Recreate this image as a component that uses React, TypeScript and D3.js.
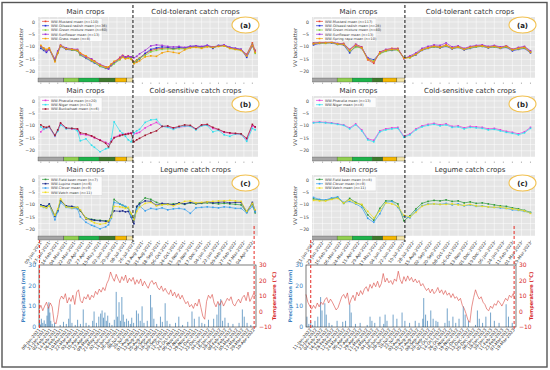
import React, { useEffect, useRef } from "react";
import * as d3 from "d3";

// Sentinel-1 acquisition dates
const leftDates = [
  "2021-01-09", "2021-01-15", "2021-01-21", "2021-01-27", "2021-02-08", "2021-02-14", "2021-02-20", "2021-03-04",
  "2021-03-16", "2021-03-28", "2021-04-03", "2021-04-15", "2021-04-27", "2021-05-03", "2021-05-15", "2021-05-27",
  "2021-06-02", "2021-06-08", "2021-06-14", "2021-06-26", "2021-07-02", "2021-07-08", "2021-07-14", "2021-07-20",
  "2021-07-26", "2021-08-01", "2021-08-07", "2021-08-19", "2021-08-31", "2021-09-12", "2021-09-24", "2021-10-06",
  "2021-10-18", "2021-10-30", "2021-11-11", "2021-11-23", "2021-12-05", "2021-12-17", "2021-12-29", "2022-01-10",
  "2022-01-22", "2022-02-03", "2022-02-15", "2022-02-27", "2022-03-11", "2022-03-23", "2022-04-04", "2022-04-10",
];
const rightDates = [
  "2022-01-11", "2022-01-23", "2022-02-04", "2022-02-16", "2022-02-28", "2022-03-12", "2022-03-24", "2022-04-05",
  "2022-04-17", "2022-04-29", "2022-05-11", "2022-05-23", "2022-06-04", "2022-06-16", "2022-06-28", "2022-07-10",
  "2022-07-22", "2022-08-03", "2022-08-15", "2022-08-27", "2022-09-08", "2022-09-20", "2022-10-02", "2022-10-14",
  "2022-10-26", "2022-11-07", "2022-11-19", "2022-12-01", "2022-12-13", "2022-12-25", "2023-01-06", "2023-01-18",
  "2023-01-30", "2023-02-11", "2023-02-23", "2023-03-07", "2023-03-19",
];

// tick labels
const leftTicks = [
  "2021-01-09", "2021-01-27", "2021-02-14", "2021-03-04", "2021-03-22", "2021-04-09", "2021-04-27", "2021-05-15",
  "2021-06-02", "2021-06-20", "2021-07-08", "2021-07-26", "2021-08-13", "2021-08-31", "2021-09-18", "2021-10-06",
  "2021-10-24", "2021-11-11", "2021-11-29", "2021-12-17", "2022-01-04", "2022-01-22", "2022-02-09", "2022-02-27",
  "2022-03-17", "2022-04-04",
];
const rightTicks = [
  "2022-01-11", "2022-01-29", "2022-02-16", "2022-03-06", "2022-03-24", "2022-04-11", "2022-04-29", "2022-05-17",
  "2022-06-04", "2022-06-22", "2022-07-10", "2022-07-28", "2022-08-15", "2022-09-02", "2022-09-20", "2022-10-08",
  "2022-10-26", "2022-11-13", "2022-12-01", "2022-12-19", "2023-01-06", "2023-01-24", "2023-02-11", "2023-03-01",
  "2023-03-19",
];
const leftWeatherTicks = [
  "2021-01-09", "2021-01-21", "2021-02-02", "2021-02-14", "2021-02-26", "2021-03-10", "2021-03-22", "2021-04-03",
  "2021-04-15", "2021-04-27", "2021-05-09", "2021-05-21", "2021-06-02", "2021-06-14", "2021-06-26", "2021-07-08",
  "2021-07-20", "2021-08-01", "2021-08-13", "2021-08-25", "2021-09-06", "2021-09-18", "2021-09-30", "2021-10-12",
  "2021-10-24", "2021-11-05", "2021-11-17", "2021-11-29", "2021-12-11", "2021-12-23", "2022-01-04", "2022-01-16",
  "2022-01-28", "2022-02-09", "2022-02-21", "2022-03-05", "2022-03-17", "2022-03-29", "2022-04-10",
];
const rightWeatherTicks = rightDates;

// VV backscatter means (dB), left column 2021/22
const lMustard = [
  -9.8, -10.8, -11.5, -10.6, -15.2, -12.0, -9.3, -10.8, -11.0, -11.2, -12.5, -13.8, -15.0, -15.6, -17.2, -18.0,
  -18.3, -17.0, -16.2, -14.2, -13.4, -14.0, -13.6, -14.2, -16.0, -15.2, -14.4, -12.8, -11.5, -10.8, -10.6, -10.4,
  -10.8, -10.5, -10.6, -10.0, -9.8, -10.2, -9.6, -10.0, -9.6, -9.4, -10.4, -10.8, -11.2, -13.0, -8.4, -11.4,
];
const lRadish = [
  -10.6, -11.4, -12.2, -11.0, -15.6, -12.4, -9.8, -11.0, -11.3, -11.6, -13.2, -14.6, -15.8, -16.4, -17.8, -18.6,
  -18.8, -17.4, -16.6, -14.8, -13.8, -14.4, -14.0, -14.6, -16.6, -15.8, -14.8, -12.6, -11.0, -10.4, -10.0, -10.2,
  -10.6, -10.2, -10.4, -9.8, -9.6, -10.0, -9.4, -10.6, -9.4, -9.4, -10.2, -10.6, -11.0, -14.2, -9.6, -12.0,
];
const lGreenMix = [
  -10.0, -11.0, -11.6, -10.8, -15.0, -12.2, -9.6, -10.6, -11.2, -11.6, -13.4, -14.4, -15.6, -16.2, -17.8, -18.4,
  -18.6, -17.6, -16.8, -15.2, -14.0, -14.6, -14.2, -14.6, -16.4, -15.4, -14.6, -13.4, -12.0, -11.4, -11.0, -10.8,
  -11.0, -10.8, -10.8, -10.2, -10.0, -10.4, -9.8, -10.2, -9.8, -9.6, -10.6, -11.0, -11.4, -13.4, -9.0, -12.6,
];
const lSunflower = [
  -9.8, -10.6, -11.8, -11.0, -14.8, -11.6, -9.4, -10.4, -10.8, -11.0, -12.8, -14.2, -14.8, -15.8, -17.0, -18.0,
  -18.8, -17.2, -16.0, -14.6, -13.6, -14.2, -13.8, -14.0, -14.4, -13.8, -12.8, -11.4, -9.6, -9.2, -9.4, -9.8,
  -10.0, -9.8, -10.2, -9.8, -9.6, -9.8, -9.4, -10.0, -9.6, -9.2, -10.2, -10.6, -11.0, -13.2, -9.2, -11.8,
];
const lGrass = [
  -9.4, -10.4, -11.0, -10.4, -16.0, -12.6, -9.6, -10.8, -11.0, -11.4, -12.6, -13.6, -15.4, -15.8, -17.4, -18.2,
  -18.0, -16.8, -15.8, -15.0, -14.2, -14.8, -14.6, -15.0, -16.8, -16.2, -15.6, -14.0, -13.6, -13.8, -12.4, -11.8,
  -12.2, -12.6, -11.2, -10.4, -10.2, -10.6, -10.0, -10.2, -9.8, -9.6, -10.6, -11.0, -11.4, -13.6, -9.4, -12.2,
];
const lPhacelia = [
  -12.4, -11.2, -10.8, -10.6, -14.2, -11.8, -9.2, -11.0, -11.2, -11.4, -13.4, -13.6, -14.2, -14.8, -15.6, -16.6,
  -17.2, -16.0, -14.6, -13.6, -13.2, -13.4, -13.0, -12.8, -13.2, -13.0, -12.6, -10.8, -9.6, -8.6, -10.2, -10.4,
  -11.0, -10.6, -10.2, -10.0, -11.4, -9.8, -9.6, -11.0, -11.6, -12.6, -13.0, -13.2, -13.4, -15.6, -10.0, -10.6,
];
const lNiger = [
  -10.4, -11.4, -10.8, -10.4, -14.0, -12.2, -9.6, -11.2, -11.0, -12.0, -16.0, -15.2, -17.8, -18.6, -20.4, -19.2,
  -18.8, -15.2, -8.4, -12.0, -13.0, -14.2, -15.6, -16.4, -12.8, -12.0, -11.4, -8.6, -7.6, -7.4, -10.2, -10.6,
  -11.4, -10.4, -10.0, -10.2, -11.6, -10.0, -9.8, -12.4, -11.8, -13.6, -14.2, -13.2, -13.4, -16.2, -11.0, -11.6,
];
const lBuckwheat = [
  -9.6, -10.4, -10.6, -10.2, -13.8, -11.6, -8.8, -10.8, -11.0, -11.2, -12.8, -13.2, -14.0, -14.6, -15.8, -17.0,
  -18.4, -16.4, -14.8, -14.0, -13.6, -13.4, -13.2, -13.0, -16.4, -15.6, -15.0, -13.8, -12.8, -12.0, -10.2, -10.0,
  -10.8, -10.2, -9.6, -9.8, -11.2, -9.6, -9.4, -10.6, -11.4, -12.4, -12.8, -13.0, -13.2, -15.0, -9.4, -10.4,
];
const lFieldBean = [
  -10.2, -10.6, -10.8, -9.8, -14.4, -12.2, -8.2, -10.6, -10.8, -11.0, -12.4, -15.2, -15.8, -16.0, -16.2, -16.4,
  -16.4, -14.6, -7.8, -9.6, -10.2, -10.8, -11.2, -13.6, -15.8, -10.8, -9.2, -7.2, -7.8, -9.0, -9.8, -9.8,
  -9.6, -9.4, -9.8, -9.2, -9.6, -9.4, -9.2, -9.4, -9.6, -9.4, -9.6, -9.8, -10.0, -13.0, -9.6, -13.2,
];
const lLupine = [
  -10.0, -10.4, -10.6, -9.6, -14.6, -12.4, -8.4, -10.4, -10.6, -11.2, -12.2, -15.6, -16.0, -16.2, -16.4, -16.6,
  -16.8, -14.2, -12.4, -12.6, -12.4, -12.8, -12.6, -14.8, -17.6, -10.6, -9.6, -8.4, -8.6, -10.2, -9.4, -9.6,
  -10.0, -9.2, -9.6, -9.0, -9.4, -9.2, -8.8, -9.2, -9.0, -8.8, -9.2, -9.0, -9.0, -12.8, -9.0, -12.4,
];
const lClover = [
  -10.4, -11.0, -11.2, -10.2, -16.0, -12.8, -9.0, -11.0, -11.4, -11.6, -14.8, -17.0, -18.2, -18.6, -19.6, -18.8,
  -18.0, -15.4, -9.0, -9.6, -10.2, -10.6, -11.2, -14.6, -16.2, -11.6, -10.4, -12.4, -11.4, -11.8, -11.2, -12.0,
  -11.6, -11.4, -11.8, -13.4, -11.2, -11.0, -10.8, -11.0, -11.2, -10.8, -11.0, -11.4, -11.4, -13.2, -10.6, -12.8,
];
const lVetch = [
  -10.6, -10.8, -11.2, -10.4, -14.2, -11.6, -7.6, -10.8, -11.2, -11.0, -12.0, -15.4, -16.6, -17.2, -17.8, -17.4,
  -16.4, -15.0, -10.6, -10.8, -11.0, -11.4, -11.0, -13.4, -16.0, -12.6, -11.0, -9.4, -9.0, -10.4, -10.0, -9.8,
  -10.4, -9.6, -8.6, -8.4, -9.2, -9.0, -8.8, -8.6, -8.4, -8.4, -8.2, -8.4, -8.6, -12.6, -9.4, -12.0,
];

// VV backscatter means (dB), right column 2022/23
const rMustard = [
  -8.4, -8.2, -8.2, -8.0, -8.8, -8.6, -11.2, -9.0, -10.0, -15.2, -16.6, -12.0, -11.2, -10.6, -10.6, -14.6,
  -14.0, -12.8, -11.0, -10.2, -9.6, -10.0, -9.2, -10.4, -9.8, -10.8, -10.0, -9.6, -9.4, -10.0, -9.6, -10.2,
  -9.6, -11.0, -10.4, -10.0, -11.8,
];
const rRadish = [
  -9.2, -8.6, -8.4, -8.4, -9.0, -9.2, -12.4, -9.6, -10.6, -14.4, -15.2, -12.6, -11.6, -11.4, -11.0, -14.4,
  -14.2, -13.2, -11.4, -10.6, -10.0, -10.4, -9.8, -10.8, -10.2, -11.2, -10.6, -10.0, -9.8, -10.4, -10.0, -10.6,
  -10.2, -11.6, -11.0, -10.6, -12.4,
];
const rGreenMix = [
  -8.6, -8.4, -8.6, -8.2, -9.0, -9.0, -11.8, -10.2, -10.4, -14.8, -15.6, -12.8, -11.8, -11.2, -11.4, -14.4,
  -14.4, -13.0, -11.2, -10.4, -10.0, -10.2, -9.6, -10.6, -10.2, -11.0, -10.4, -10.0, -9.8, -10.2, -10.0, -10.4,
  -10.0, -11.2, -10.8, -10.4, -12.0,
];
const rSunflower = [
  -8.6, -8.2, -8.2, -8.0, -8.6, -8.8, -11.0, -9.0, -10.2, -14.6, -16.2, -12.2, -11.0, -10.8, -10.8, -14.8,
  -13.6, -12.4, -10.6, -9.8, -9.2, -9.4, -8.4, -10.0, -9.6, -10.6, -9.8, -9.4, -9.2, -9.8, -9.4, -10.0,
  -9.6, -11.0, -10.2, -9.8, -11.6,
];
const rSpringRape = [
  -8.8, -8.4, -8.4, -8.2, -8.8, -9.0, -11.4, -9.4, -10.4, -15.0, -16.0, -12.4, -11.4, -11.0, -11.0, -14.6,
  -14.2, -13.0, -11.2, -10.4, -9.8, -10.2, -9.4, -10.6, -10.0, -11.0, -10.2, -9.8, -9.6, -10.2, -9.8, -10.4,
  -9.8, -11.2, -10.6, -10.2, -12.2,
];
const rPhacelia = [
  -8.6, -8.4, -8.6, -8.8, -9.2, -9.6, -10.8, -9.2, -11.6, -15.2, -15.8, -12.0, -11.2, -10.8, -10.6, -14.2,
  -13.2, -11.2, -10.0, -9.4, -9.0, -9.6, -9.2, -10.2, -10.0, -10.8, -10.2, -10.4, -10.6, -11.2, -11.0, -11.6,
  -12.2, -12.6, -13.2, -12.4, -10.6,
];
const rNiger = [
  -8.8, -8.6, -8.8, -9.0, -9.4, -9.8, -11.2, -9.6, -12.0, -15.6, -16.4, -12.4, -11.6, -11.2, -11.0, -14.6,
  -13.6, -11.6, -10.4, -9.8, -9.4, -10.0, -9.6, -10.6, -10.4, -11.2, -10.6, -10.8, -11.0, -11.6, -11.4, -12.0,
  -12.6, -13.0, -13.6, -12.8, -11.0,
];
const rFieldBean = [
  -7.6, -8.0, -8.2, -7.6, -7.0, -9.4, -7.4, -9.0, -10.0, -14.0, -16.2, -11.4, -8.4, -8.4, -9.6, -16.4,
  -14.4, -11.6, -9.4, -8.6, -8.2, -8.4, -8.0, -8.6, -8.4, -9.2, -8.8, -9.4, -9.2, -9.6, -10.0, -10.4,
  -10.6, -11.2, -11.6, -12.2, -13.0,
];
const rClover = [
  -7.0, -7.8, -8.0, -7.2, -6.8, -9.0, -8.6, -9.6, -11.0, -15.4, -17.0, -13.6, -9.0, -8.6, -11.0, -14.6,
  -15.2, -12.4, -10.4, -9.6, -9.6, -9.8, -9.4, -10.0, -9.6, -10.4, -10.0, -10.6, -10.4, -10.8, -11.0, -11.2,
  -11.4, -12.0, -12.2, -12.6, -13.2,
];
const rVetch = [
  -8.2, -8.4, -8.4, -7.8, -7.4, -9.2, -8.0, -9.4, -9.8, -12.6, -15.2, -12.4, -9.2, -9.6, -10.6, -14.2,
  -14.8, -13.0, -10.6, -9.8, -9.6, -9.8, -9.8, -9.6, -10.0, -10.2, -9.8, -10.4, -10.6, -10.8, -11.0, -10.8,
  -11.4, -11.6, -12.0, -12.4, -13.4,
];

// crop stage bar (main crop season)
const cropColors = ["#a6a6a6", "#92d050", "#1db34a", "#3f7a2c", "#f5b800", "#f3e4a6"];
const leftCropBreaks = ["2021-01-03", "2021-02-27", "2021-03-31", "2021-05-13", "2021-06-16", "2021-07-11", "2021-07-24"];
const rightCropBreaks = ["2022-01-09", "2022-02-27", "2022-03-29", "2022-05-08", "2022-05-29", "2022-06-26", "2022-07-12"];

// weather: mean temperature every 4 days (°C) and daily rain events [day, mm]
const leftWeatherStart = "2021-01-08";
const leftTemp = [
  1.5, 4.0, 0.5, 3.5, 6.0, 2.0, 5.5, 3.0,
  -6.5, -8.0, -2.0, 7.5, 10.0,
  8.0, 11.5, 5.5, 9.0, 6.5, 10.5, 4.5, 12.5,
  14.0, 7.0, 5.5, 9.5, 8.0, 11.0, 7.5, 10.5,
  9.0, 13.0, 11.0, 14.5, 12.5, 15.5, 13.5, 18.0,
  20.5, 25.5, 22.0, 19.5, 24.0, 21.0, 18.5, 22.5,
  20.0, 23.5, 18.5, 21.5, 19.5, 22.0, 17.5, 20.5,
  18.0, 21.0, 16.5, 19.5, 17.0, 15.0, 18.5, 20.0,
  17.5, 19.0, 15.5, 14.0, 16.5, 13.0, 15.0, 12.5,
  11.0, 14.0, 10.0, 12.5, 9.0, 11.5, 8.0, 10.5,
  7.5, 5.0, 6.5, 3.0, 4.5, 2.0, 5.5, 3.5,
  8.0, 2.5, -3.0, -5.0, 6.5, 10.5, 8.5, 11.0,
  5.5, 3.0, 6.5, 4.0, 7.0, 3.5, 6.0, 8.5,
  7.0, 9.5, 5.0, 3.5, 6.0, 8.0, 5.5, 9.0,
  10.5, 7.0, 12.5, 6.5, 9.0, 11.5, 10.0,
];
const leftRain = [
  [1, 2.5], [3, 1.2], [5, 4.0], [8, 2.0], [11, 3.2], [14, 1.5], [17, 5.5], [19, 9.5], [21, 12.0], [23, 7.0],
  [25, 3.0], [28, 1.5], [33, 2.0], [45, 1.0], [52, 2.5], [58, 1.5], [63, 4.0], [66, 11.0], [70, 2.0], [77, 1.0],
  [82, 3.5], [88, 1.5], [94, 8.5], [100, 2.0], [106, 1.0], [114, 3.0], [117, 7.5], [122, 2.0], [127, 5.0], [131, 6.5],
  [134, 8.0], [137, 4.5], [140, 7.0], [143, 3.0], [146, 5.5], [150, 2.0], [155, 1.0], [160, 3.5], [164, 17.0], [167, 5.0],
  [170, 12.0], [173, 3.0], [176, 14.5], [179, 6.0], [182, 2.5], [186, 4.0], [190, 3.0], [194, 1.5], [197, 4.5], [201, 2.0],
  [207, 8.0], [211, 6.5], [215, 3.0], [219, 10.0], [223, 2.0], [230, 3.0], [237, 15.5], [240, 9.5], [244, 4.0], [250, 1.5],
  [258, 5.0], [262, 2.5], [268, 11.5], [272, 3.0], [278, 1.5], [290, 2.0], [297, 5.0], [305, 1.0], [316, 2.5], [325, 7.5],
  [330, 4.0], [340, 5.0], [346, 2.0], [352, 1.5], [360, 3.5], [371, 4.0], [378, 6.0], [382, 11.5], [386, 13.5], [390, 3.0],
  [395, 4.5], [402, 2.0], [412, 1.5], [425, 2.0], [432, 8.5], [436, 5.0], [442, 2.0], [450, 1.0],
];
const rightWeatherStart = "2022-01-01";
const rightTemp = [
  11.0, 6.0, 3.5, 1.5, 4.0, 2.0, 5.5, 3.0,
  6.0, 4.5, 7.5, 9.0, 5.5, 8.0, 6.0, 3.5,
  1.0, 2.5, 6.0, 9.5, 11.0, 8.5, 12.0, 4.5,
  8.0, 10.5, 7.0, 12.5, 10.0, 13.5, 11.0, 14.5,
  16.0, 13.0, 17.5, 15.0, 18.5, 16.0, 19.5, 15.5,
  18.0, 24.5, 19.0, 21.5, 18.5, 20.0, 17.5, 21.0,
  19.5, 26.0, 20.5, 18.0, 22.5, 19.5, 23.0, 20.0,
  22.0, 19.0, 21.0, 18.5, 20.0, 16.5, 18.0, 15.5,
  13.5, 15.0, 12.0, 14.5, 11.5, 13.0, 15.5, 12.0,
  14.0, 11.0, 13.5, 10.5, 12.0, 9.0, 11.5, 8.5,
  9.5, 7.0, 8.5, 4.0, 2.0, -1.5, -5.5, -7.0,
  3.0, 9.0, 14.0, 10.5, 8.0, 9.5, 6.0, 4.5,
  1.5, 0.5, 3.5, 2.0, 5.0, 4.0, 7.0, 5.5,
  3.5, 6.0, 8.5, 7.0, 10.5, 9.0, 11.5, 8.0,
];
const rightRain = [
  [2, 5.0], [6, 1.5], [10, 2.5], [14, 1.0], [19, 3.0], [25, 5.0], [31, 14.5], [34, 8.0], [40, 11.5], [43, 6.0],
  [49, 2.0], [55, 1.0], [66, 3.0], [78, 2.5], [84, 3.0], [93, 11.0], [96, 7.0], [105, 1.5], [115, 2.0], [130, 1.0],
  [136, 5.0], [140, 3.0], [146, 2.0], [157, 5.0], [165, 1.5], [168, 6.0], [172, 3.0], [185, 6.0], [193, 4.0], [204, 7.0],
  [210, 3.0], [220, 2.0], [232, 3.0], [240, 2.0], [248, 4.0], [250, 14.0], [254, 6.0], [258, 3.0], [265, 8.0], [270, 4.0],
  [276, 3.0], [280, 2.5], [295, 2.0], [300, 9.0], [304, 3.0], [312, 5.0], [318, 2.0], [325, 4.0], [334, 10.0], [338, 6.0],
  [345, 3.0], [360, 1.0], [364, 8.0], [368, 4.0], [375, 2.0], [382, 5.0], [392, 7.0], [400, 3.0], [410, 2.0], [425, 11.0],
  [430, 5.0], [438, 2.0],
];

const FONT = "DejaVu Sans, Arial, sans-serif";
const parse = d3.timeParse("%Y-%m-%d");
const fmt = d3.timeFormat("%d-%b-%Y");

const columns = [
  {
    left: 38, right: 258, domain: ["2021-01-03", "2022-04-16"], dates: leftDates, ticks: leftTicks,
    harvest: "2021-07-24", crop: leftCropBreaks, ylab: 23,
    panels: [
      { sub: "Cold-tolerant catch crops", tag: "(a)", series: [
        { name: "WW-Mustard mean (n=110)", color: "#e8412e", values: lMustard },
        { name: "WW-Oilseed radish mean (n=36)", color: "#2430d8", values: lRadish },
        { name: "WW-Green mixture mean (n=60)", color: "#7fd43a", values: lGreenMix },
        { name: "WW-Sunflower mean (n=13)", color: "#a033d6", values: lSunflower },
        { name: "WW-Grass mean (n=8)", color: "#f5a000", values: lGrass },
      ] },
      { sub: "Cold-sensitive catch crops", tag: "(b)", series: [
        { name: "WW-Phacelia mean (n=20)", color: "#e83ad8", values: lPhacelia },
        { name: "WW-Niger mean (n=13)", color: "#2ee0ee", values: lNiger },
        { name: "WW-Buckwheat mean (n=6)", color: "#a3152f", values: lBuckwheat },
      ] },
      { sub: "Legume catch crops", tag: "(c)", series: [
        { name: "WW-Field bean mean (n=7)", color: "#2f9a3c", values: lFieldBean },
        { name: "WW-Lupine mean (n=6)", color: "#1c2a8c", values: lLupine },
        { name: "WW-Clover mean (n=9)", color: "#3aa0ee", values: lClover },
        { name: "WW-Vetch mean (n=11)", color: "#f0dc1e", values: lVetch },
      ] },
    ],
    w: { left: 39, right: 256, domain: ["2021-01-08", "2022-04-14"], start: leftWeatherStart, temp: leftTemp,
      rain: leftRain, ticks: leftWeatherTicks, plab: 25, tlab: 276 },
  },
  {
    left: 312, right: 535, domain: ["2022-01-08", "2023-03-28"], dates: rightDates, ticks: rightTicks,
    harvest: "2022-07-12", crop: rightCropBreaks, ylab: 297,
    panels: [
      { sub: "Cold-tolerant catch crops", tag: "(a)", series: [
        { name: "WW-Mustard mean (n=117)", color: "#e8412e", values: rMustard },
        { name: "WW-Oilseed radish mean (n=28)", color: "#2430d8", values: rRadish },
        { name: "WW-Green mixture mean (n=40)", color: "#7fd43a", values: rGreenMix },
        { name: "WW-Sunflower mean (n=13)", color: "#a033d6", values: rSunflower },
        { name: "WW-Spring rape mean (n=10)", color: "#f5a000", values: rSpringRape },
      ] },
      { sub: "Cold-sensitive catch crops", tag: "(b)", series: [
        { name: "WW-Phacelia mean (n=13)", color: "#e83ad8", values: rPhacelia },
        { name: "WW-Niger mean (n=8)", color: "#2ee0ee", values: rNiger },
      ] },
      { sub: "Legume catch crops", tag: "(c)", series: [
        { name: "WW-Field bean mean (n=8)", color: "#2f9a3c", values: rFieldBean },
        { name: "WW-Clover mean (n=9)", color: "#3aa0ee", values: rClover },
        { name: "WW-Vetch mean (n=11)", color: "#f0dc1e", values: rVetch },
      ] },
    ],
    w: { left: 306, right: 516, domain: ["2022-01-01", "2023-03-23"], start: rightWeatherStart, temp: rightTemp,
      rain: rightRain, ticks: rightWeatherTicks, plab: 292, tlab: 533 },
  },
];

function drawColumn(svg: any, col: any) {
  const x = d3.scaleTime().domain(col.domain.map(parse)).range([col.left, col.right]);
  const dates = col.dates.map(parse);
  const ticks = col.ticks.map(parse);
  const hx = x(parse(col.harvest));
  const tops = [17, 96, 175];
  const ph = 61;

  col.panels.forEach((p: any, pi: number) => {
    const top = tops[pi];
    const y = d3.scaleLinear().domain([-22.5, 2]).range([top + ph, top]);
    const g = svg.append("g");

    g.append("rect").attr("x", col.left).attr("y", top)
      .attr("width", col.right - col.left).attr("height", ph).attr("fill", "#e5e5e5");
    g.selectAll(".hg").data(d3.range(-22.5, 2.01, 2.5)).join("line")
      .attr("x1", col.left).attr("x2", col.right)
      .attr("y1", (d: number) => y(d)).attr("y2", (d: number) => y(d))
      .attr("stroke", "#fff").attr("stroke-width", 0.5);
    g.selectAll(".vg").data(ticks).join("line")
      .attr("x1", (d: Date) => x(d)).attr("x2", (d: Date) => x(d))
      .attr("y1", top).attr("y2", top + ph)
      .attr("stroke", "#fff").attr("stroke-width", 0.5);

    // y ticks
    g.selectAll(".yt").data([0, -5, -10, -15, -20]).join("text")
      .attr("x", col.left - 3).attr("y", (d: number) => y(d) + 1.6)
      .attr("text-anchor", "end").attr("font-size", 4.6).attr("fill", "#444").attr("font-family", FONT)
      .text((d: number) => d3.format("d")(d));
    g.append("text")
      .attr("transform", `translate(${col.ylab},${top + ph / 2}) rotate(-90)`)
      .attr("text-anchor", "middle").attr("font-size", 5.2).attr("fill", "#444").attr("font-family", FONT)
      .text("VV backscatter");

    // series
    const line = d3.line<number>().x((d, i) => x(dates[i])).y((d) => y(d));
    p.series.forEach((s: any) => {
      g.append("path").datum(s.values).attr("d", line)
        .attr("fill", "none").attr("stroke", s.color).attr("stroke-width", 0.7);
      g.selectAll(null).data(s.values).join("rect")
        .attr("x", (d: number, i: number) => x(dates[i]) - 0.8).attr("y", (d: number) => y(d) - 0.8)
        .attr("width", 1.6).attr("height", 1.6).attr("fill", s.color);
    });

    // legend
    const lx = col.left + 2;
    const ly = top + 1.5;
    const rowH = 4.3;
    g.append("rect").attr("x", lx).attr("y", ly).attr("width", 62)
      .attr("height", p.series.length * rowH + 1.5)
      .attr("fill", "#fff").attr("fill-opacity", 0.85).attr("stroke", "#ccc").attr("stroke-width", 0.3);
    p.series.forEach((s: any, i: number) => {
      const cy = ly + 2.9 + i * rowH;
      g.append("line").attr("x1", lx + 2).attr("x2", lx + 9).attr("y1", cy).attr("y2", cy)
        .attr("stroke", s.color).attr("stroke-width", 0.7);
      g.append("rect").attr("x", lx + 4.7).attr("y", cy - 0.8).attr("width", 1.6).attr("height", 1.6)
        .attr("fill", s.color);
      g.append("text").attr("x", lx + 11).attr("y", cy + 1.2)
        .attr("font-size", 3.4).attr("fill", "#333").attr("font-family", FONT).text(s.name);
    });

    // crop stage bar
    const br = col.crop.map(parse);
    cropColors.forEach((c, i) => {
      g.append("rect").attr("x", x(br[i])).attr("y", top + ph)
        .attr("width", x(br[i + 1]) - x(br[i])).attr("height", 4)
        .attr("fill", c).attr("stroke", "#333").attr("stroke-width", 0.3);
    });
    g.selectAll(".xt").data(ticks).join("line")
      .attr("x1", (d: Date) => x(d)).attr("x2", (d: Date) => x(d))
      .attr("y1", top + ph + 4.5).attr("y2", top + ph + 6)
      .attr("stroke", "#555").attr("stroke-width", 0.4);
    if (pi === 2) {
      g.selectAll(".xl").data(ticks).join("text")
        .attr("transform", (d: Date) => `translate(${x(d) + 1},${top + ph + 7}) rotate(-55)`)
        .attr("text-anchor", "end").attr("font-size", 4.3).attr("fill", "#333").attr("font-family", FONT)
        .text((d: Date) => fmt(d));
    }

    // titles
    g.append("text").attr("x", (col.left + hx) / 2).attr("y", top - 3)
      .attr("text-anchor", "middle").attr("font-size", 7).attr("fill", "#333").attr("font-family", FONT)
      .text("Main crops");
    g.append("text").attr("x", (hx + col.right) / 2).attr("y", top - 3)
      .attr("text-anchor", "middle").attr("font-size", 7).attr("fill", "#333").attr("font-family", FONT)
      .text(p.sub);

    // panel tag
    g.append("ellipse").attr("cx", col.right - 12.5).attr("cy", top + 8).attr("rx", 13.5).attr("ry", 8)
      .attr("fill", "#fff").attr("stroke", "#f2c14e").attr("stroke-width", 1.1);
    g.append("text").attr("x", col.right - 12.5).attr("y", top + 10.5)
      .attr("text-anchor", "middle").attr("font-size", 7).attr("font-weight", "bold")
      .attr("fill", "#222").attr("font-family", FONT).text(p.tag);
  });

  // harvest line
  svg.append("line").attr("x1", hx).attr("x2", hx).attr("y1", 5).attr("y2", 242)
    .attr("stroke", "#111").attr("stroke-width", 1).attr("stroke-dasharray", "3,2");

  // weather chart
  const w = col.w;
  const bx = d3.scaleTime().domain(w.domain.map(parse)).range([w.left, w.right]);
  const pY = d3.scaleLinear().domain([0, 30]).range([327, 265]);
  const tY = d3.scaleLinear().domain([-10, 30]).range([327, 265]);
  const start = parse(w.start) as Date;
  const g = svg.append("g");

  g.selectAll(".rain").data(w.rain).join("rect")
    .attr("x", (d: number[]) => bx(d3.timeDay.offset(start, d[0])) - 0.5)
    .attr("y", (d: number[]) => pY(d[1]))
    .attr("width", 1).attr("height", (d: number[]) => pY(0) - pY(d[1]))
    .attr("fill", "#2a73ad").attr("fill-opacity", 0.65);

  const tline = d3.line<number>()
    .x((d, i) => bx(d3.timeDay.offset(start, i * 4)))
    .y((d) => tY(d));
  g.append("path").datum(w.temp).attr("d", tline)
    .attr("fill", "none").attr("stroke", "#d9473f").attr("stroke-width", 0.6);

  g.append("rect").attr("x", w.left).attr("y", 265).attr("width", w.right - w.left).attr("height", 62)
    .attr("fill", "none").attr("stroke", "#222").attr("stroke-width", 0.6);

  g.selectAll(".pt").data([0, 10, 20, 30]).join("text")
    .attr("x", w.left - 3).attr("y", (d: number) => pY(d) + 2)
    .attr("text-anchor", "end").attr("font-size", 6).attr("fill", "#3c7fbf").attr("font-family", FONT)
    .text((d: number) => d);
  g.selectAll(".tt").data([-10, 0, 10, 20, 30]).join("text")
    .attr("x", w.right + 3).attr("y", (d: number) => tY(d) + 2)
    .attr("font-size", 6).attr("fill", "#d62728").attr("font-family", FONT)
    .text((d: number) => d3.format("d")(d));
  g.append("text").attr("transform", `translate(${w.plab},296) rotate(-90)`)
    .attr("text-anchor", "middle").attr("font-size", 5).attr("font-weight", "bold")
    .attr("fill", "#3c7fbf").attr("font-family", FONT).text("Precipitation (mm)");
  g.append("text").attr("transform", `translate(${w.tlab},296) rotate(-90)`)
    .attr("text-anchor", "middle").attr("font-size", 5).attr("font-weight", "bold")
    .attr("fill", "#d62728").attr("font-family", FONT).text("Temperature (°C)");

  const wt = w.ticks.map(parse);
  g.selectAll(".wl").data(wt).join("text")
    .attr("transform", (d: Date) => `translate(${bx(d) + 1},330) rotate(-50)`)
    .attr("text-anchor", "end").attr("font-size", 4.3).attr("fill", "#222").attr("font-family", FONT)
    .text((d: Date) => fmt(d));

  // links between the S-1 period and the weather record
  const first = bx(dates[0]);
  const last = bx(dates[dates.length - 1]);
  [[first, 240], [last, 226]].forEach(([lx, y1]) => {
    svg.append("line").attr("x1", lx).attr("x2", lx).attr("y1", y1).attr("y2", 330)
      .attr("stroke", "#e8403a").attr("stroke-width", 1.1).attr("stroke-dasharray", "3,2");
  });
}

export default function App() {
  const svgRef = useRef<SVGSVGElement>(null);

  useEffect(() => {
    const svg = d3.select(svgRef.current);
    svg.selectAll("*").remove();
    svg.append("rect").attr("width", 550).attr("height", 370).attr("fill", "#fff");
    columns.forEach((c) => drawColumn(svg, c));
    svg.append("rect").attr("x", 2).attr("y", 2.5).attr("width", 545).attr("height", 364.5)
      .attr("fill", "none").attr("stroke", "#555").attr("stroke-width", 1.4);
  }, []);

  return (
    <svg ref={svgRef} width={550} height={370} style={{ position: "absolute", left: 0, top: 0 }}></svg>
  );
}
